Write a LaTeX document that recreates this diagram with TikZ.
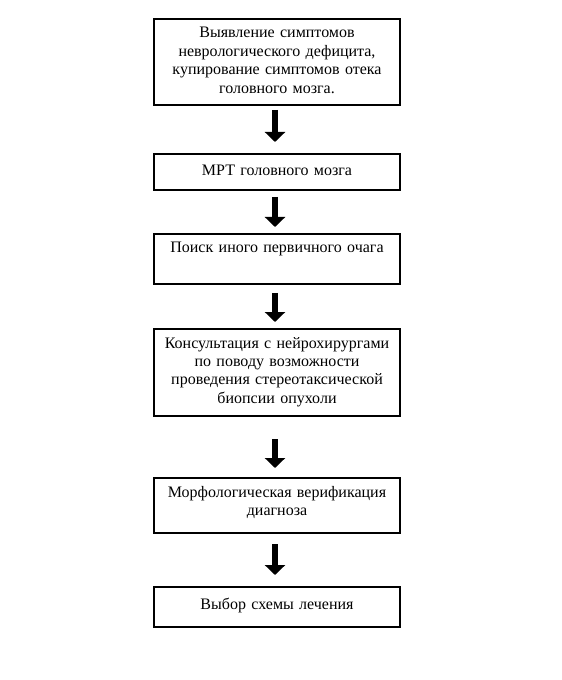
\documentclass[tikz,border=0pt]{standalone}
\usepackage{fontspec}
\setmainfont{Liberation Serif}
\usetikzlibrary{arrows.meta}

\tikzset{
  box/.style={draw, line width=1.5pt, inner sep=0pt, anchor=north,
    text width=184.5pt, align=center, text height=14.25pt,
    font=\fontsize{12pt}{13.8pt}\selectfont},
  arr/.style={line width=4.5pt, -{Triangle[width=15pt,length=7.5pt]}}
}

\begin{document}
\begin{tikzpicture}[x=0.75pt,y=-0.75pt]
    \useasboundingbox (0,0) rectangle (561,680);

    \node[box, text depth=50.25pt] (b1) at (277,18) {Выявление симптомов\\неврологического дефицита,\\купирование симптомов отека\\головного мозга.};
    \node[box, text height=16.5pt, text depth=10.5pt] (b2) at (277,153) {МРТ головного мозга};
    \node[box, text depth=23.25pt] (b3) at (277,233) {Поиск иного первичного очага};
    \node[box, text depth=51pt] (b4) at (277,328) {Консультация с нейрохирургами\\по поводу возможности\\проведения стереотаксической\\биопсии опухоли};
    \node[box, text depth=27pt] (b5) at (277,477) {Морфологическая верификация\\диагноза};
    \node[box, text height=16.5pt, text depth=13.5pt] (b6) at (277,586) {Выбор схемы лечения};

    \draw[arr, shorten <=3pt, shorten >=8.25pt] ([xshift=-1.5pt]b1.south) -- ([xshift=-1.5pt]b2.north);
    \draw[arr, shorten <=4.5pt, shorten >=4.5pt] ([xshift=-1.5pt]b2.south) -- ([xshift=-1.5pt]b3.north);
    \draw[arr, shorten <=6pt, shorten >=4.5pt] ([xshift=-1.5pt]b3.south) -- ([xshift=-1.5pt]b4.north);
    \draw[arr, shorten <=16.5pt, shorten >=6.75pt] ([xshift=-1.5pt]b4.south) -- ([xshift=-1.5pt]b5.north);
    \draw[arr, shorten <=7.5pt, shorten >=8.25pt] ([xshift=-1.5pt]b5.south) -- ([xshift=-1.5pt]b6.north);
\end{tikzpicture}
\end{document}
